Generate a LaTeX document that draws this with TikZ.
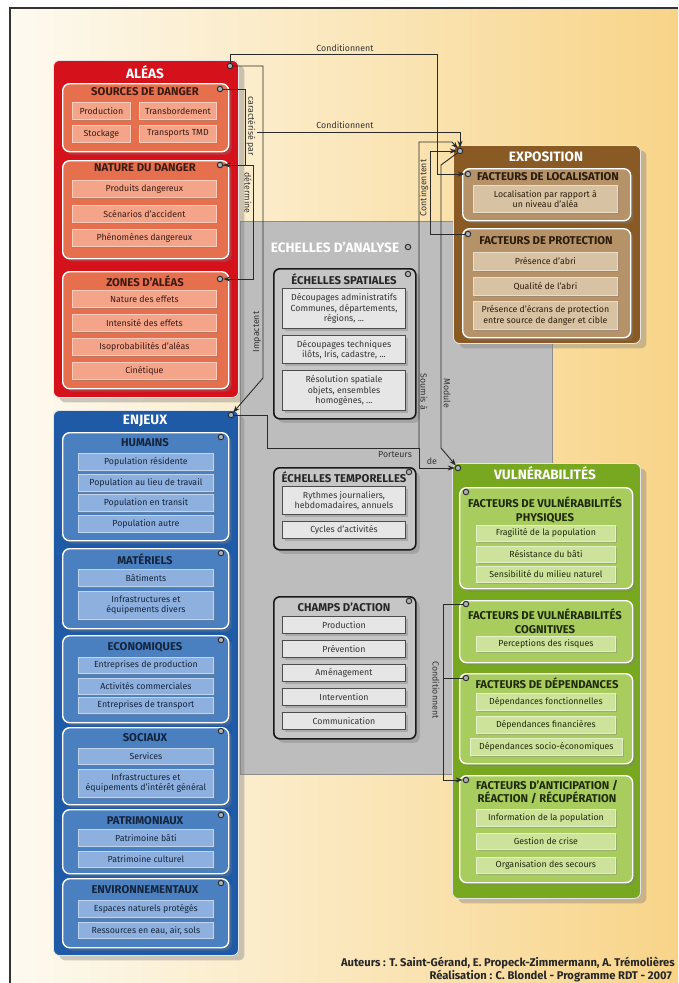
\documentclass[tikz,border=0pt]{standalone}
\usepackage{fontspec}
\setmainfont{Fira Sans}
\usetikzlibrary{shadows,arrows.meta}

\definecolor{bgL}{HTML}{FDFAF0}
\definecolor{bgM}{HTML}{FBF0CF}
\definecolor{bgR}{HTML}{F8D488}
\definecolor{redO}{HTML}{D5121B}
\definecolor{redI}{HTML}{E6704E}
\definecolor{redT}{HTML}{F3A489}
\definecolor{redTx}{HTML}{3B1A12}
\definecolor{bluO}{HTML}{1E5AA6}
\definecolor{bluI}{HTML}{4A7FC0}
\definecolor{bluT}{HTML}{8EB0DE}
\definecolor{bluTx}{HTML}{14243C}
\definecolor{brnO}{HTML}{8A5A24}
\definecolor{brnI}{HTML}{B59268}
\definecolor{brnT}{HTML}{D7C3A3}
\definecolor{brnTx}{HTML}{2B1B0A}
\definecolor{grnO}{HTML}{78A820}
\definecolor{grnI}{HTML}{A9CC5E}
\definecolor{grnT}{HTML}{CDE39C}
\definecolor{grnTx}{HTML}{1E2A0A}
\definecolor{gryBg}{HTML}{BDBDBD}
\definecolor{gryI}{HTML}{C6C6C6}
\definecolor{gryT}{HTML}{E6E6E6}
\definecolor{lnkC}{HTML}{2A2A2A}
\definecolor{dotC}{HTML}{A8AFB8}

% box of given size, top-left corner at (x,y)
\newcommand\bx[7]{\node[#2,anchor=north west,minimum width=#5pt,minimum height=#6pt] (#1) at (#3,#4) {#7};}

\tikzset{
  zone/.style={rounded corners=6pt,draw=white!80!gray,line width=0.9pt,
    drop shadow={shadow xshift=6pt,shadow yshift=-5pt,opacity=0.4}},
  grp/.style={rounded corners=7pt,draw=white,line width=1.4pt,
    drop shadow={shadow xshift=3pt,shadow yshift=-3pt,opacity=0.35}},
  leaf/.style={line width=0.8pt,align=center,inner sep=1pt,
    font=\fontsize{8.8}{10.2}\selectfont,
    drop shadow={shadow xshift=2pt,shadow yshift=-2pt,opacity=0.4}},
  leafR/.style={leaf,fill=redT,draw=redT!55!white,text=redTx},
  leafB/.style={leaf,fill=bluT,draw=bluT!55!white,text=bluTx},
  leafN/.style={leaf,fill=brnT,draw=brnT!55!white,text=brnTx},
  leafG/.style={leaf,fill=grnT,draw=grnT!55!white,text=grnTx},
  leafK/.style={leaf,fill=gryT,draw=black!70,line width=1pt,text=black!80},
  grpR/.style={grp,fill=redI},
  grpB/.style={grp,fill=bluI},
  grpN/.style={grp,fill=brnI},
  grpG/.style={grp,fill=grnI},
  grpK/.style={rounded corners=6pt,fill=gryI,draw=black!90,line width=1.6pt,
    drop shadow={shadow xshift=4pt,shadow yshift=-4pt,opacity=0.4}},
  hd/.style={font=\bfseries\fontsize{11.3}{13.8}\selectfont,align=center,inner sep=0pt},
  hdR/.style={hd,text=redTx},
  hdB/.style={hd,text=bluTx},
  hdN/.style={hd,text=brnTx},
  hdG/.style={hd,text=grnTx},
  hdK/.style={hd,text=black!85},
  bighd/.style={font=\bfseries\fontsize{13.6}{16}\selectfont,text=white,inner sep=0pt},
  dot/.style={circle,minimum size=5.5pt,inner sep=0pt,fill=dotC,draw=lnkC,line width=0.9pt},
  lnk/.style={draw=lnkC,line width=0.9pt},
  tip/.style={-{Stealth[length=7pt,width=5pt]}},
  lbl/.style={font=\fontsize{8.8}{10}\selectfont,text=black!80,inner sep=0.5pt},
  credit/.style={font=\bfseries\fontsize{11.2}{13}\selectfont,text=black!85,anchor=east,inner sep=0pt},
}

\begin{document}
\begin{tikzpicture}[x=1pt,y=-1pt]
\useasboundingbox (0,0) rectangle (678,983);
% background with its frame
\fill[white] (0,0) rectangle (678,983);
\shade[left color=bgL,middle color=bgM,right color=bgR] (10,8) rectangle (678,983);
\draw[black!80,line width=1.4pt] (10,983) -- (10,8) -- (678,8);

% ---------------- ECHELLES D'ANALYSE (grey backdrop) ----------------
\node[fill=gryBg,draw=black!45,line width=0.6pt,anchor=north west,minimum width=312pt,minimum height=553pt,inner sep=0pt] (ech) at (240,221) {};
\node[font=\bfseries\fontsize{13.6}{15}\selectfont,text=white,inner sep=0pt] (ech-t) at (335,247) {ECHELLES D'ANALYSE};

\bx{spat}{grpK}{273}{268}{142}{150}{}
\node[hdK] (spat-t) at (344,279) {ÉCHELLES SPATIALES};
\bx{spat1}{leafK}{282}{288}{123}{40}{Découpages administratifs\\Communes, départements,\\régions, ...}
\bx{spat2}{leafK}{282}{335}{123}{28}{Découpages techniques\\ilôts, Iris, cadastre, ...}
\bx{spat3}{leafK}{282}{370}{123}{40}{Résolution spatiale\\objets, ensembles\\homogènes, ...}

\bx{temp}{grpK}{273}{467}{142}{82}{}
\node[hdK] (temp-t) at (344,477) {ÉCHELLES TEMPORELLES};
\bx{temp1}{leafK}{282}{486}{123}{28}{Rythmes journaliers,\\hebdomadaires, annuels}
\bx{temp2}{leafK}{282}{521}{123}{17}{Cycles d'activités}

\bx{champ}{grpK}{273}{596}{142}{142}{}
\node[hdK] (champ-t) at (344,607) {CHAMPS D'ACTION};
\bx{ch1}{leafK}{282}{616}{123}{17}{Production}
\bx{ch2}{leafK}{282}{640}{123}{17}{Prévention}
\bx{ch3}{leafK}{282}{664}{123}{17}{Aménagement}
\bx{ch4}{leafK}{282}{688}{123}{17}{Intervention}
\bx{ch5}{leafK}{282}{712}{123}{17}{Communication}

% ---------------- ALEAS ----------------
\bx{aleas}{zone,fill=redO}{53}{60}{185}{337}{}
\node[bighd] (aleas-t) at (145,72) {ALÉAS};

\bx{src}{grpR}{62}{83}{166}{68}{}
\node[hdR] (src-t) at (145,92) {SOURCES DE DANGER};
\bx{src1}{leafR}{72}{102}{58}{17}{Production}
\bx{src2}{leafR}{139}{102}{77}{17}{Transbordement}
\bx{src3}{leafR}{72}{125}{58}{17}{Stockage}
\bx{src4}{leafR}{139}{125}{77}{17}{Transports TMD}

\bx{nat}{grpR}{62}{160}{166}{98}{}
\node[hdR] (nat-t) at (145,168) {NATURE DU DANGER};
\bx{nat1}{leafR}{72}{180}{144}{17}{Produits dangereux}
\bx{nat2}{leafR}{72}{205}{144}{17}{Scénarios d'accident}
\bx{nat3}{leafR}{72}{229}{144}{17}{Phénomènes dangereux}

\bx{zon}{grpR}{62}{271}{166}{117}{}
\node[hdR] (zon-t) at (145,281) {ZONES D'ALÉAS};
\bx{zon1}{leafR}{72}{290}{144}{17}{Nature des effets}
\bx{zon2}{leafR}{72}{314}{144}{17}{Intensité des effets}
\bx{zon3}{leafR}{72}{338}{144}{17}{Isoprobabilités d'aléas}
\bx{zon4}{leafR}{72}{362}{144}{17}{Cinétique}

% ---------------- ENJEUX ----------------
\bx{enj}{zone,fill=bluO}{53}{410}{185}{545}{}
\node[bighd] (enj-t) at (145,421) {ENJEUX};

\bx{hum}{grpB}{62}{432}{166}{108}{}
\node[hdB] (hum-t) at (145,443) {HUMAINS};
\bx{hum1}{leafB}{78}{453}{135}{17}{Population résidente}
\bx{hum2}{leafB}{78}{474}{135}{17}{Population au lieu de travail}
\bx{hum3}{leafB}{78}{494}{135}{17}{Population en transit}
\bx{hum4}{leafB}{78}{515}{135}{17}{Population autre}

\bx{mat}{grpB}{62}{548}{166}{80}{}
\node[hdB] (mat-t) at (145,559) {MATÉRIELS};
\bx{mat1}{leafB}{78}{569}{135}{17}{Bâtiments}
\bx{mat2}{leafB}{78}{591}{135}{28}{Infrastructures et\\équipements divers}

\bx{eco}{grpB}{62}{635}{166}{87}{}
\node[hdB] (eco-t) at (145,647) {ECONOMIQUES};
\bx{eco1}{leafB}{78}{657}{135}{16}{Entreprises de production}
\bx{eco2}{leafB}{78}{678}{135}{16}{Activités commerciales}
\bx{eco3}{leafB}{78}{697}{135}{16}{Entreprises de transport}

\bx{soc}{grpB}{62}{727}{166}{77}{}
\node[hdB] (soc-t) at (145,738) {SOCIAUX};
\bx{soc1}{leafB}{78}{748}{135}{16}{Services}
\bx{soc2}{leafB}{78}{769}{135}{28}{Infrastructures et\\équipements d'intérêt général}

\bx{pat}{grpB}{62}{809}{166}{64}{}
\node[hdB] (pat-t) at (145,821) {PATRIMONIAUX};
\bx{pat1}{leafB}{78}{829}{135}{17}{Patrimoine bâti}
\bx{pat2}{leafB}{78}{851}{135}{16}{Patrimoine culturel}

\bx{env}{grpB}{62}{878}{166}{69}{}
\node[hdB] (env-t) at (145,890) {ENVIRONNEMENTAUX};
\bx{env1}{leafB}{78}{900}{135}{17}{Espaces naturels protégés}
\bx{env2}{leafB}{78}{922}{135}{16}{Ressources en eau, air, sols}

% ---------------- EXPOSITION ----------------
\bx{expo}{zone,fill=brnO}{453}{145}{187}{198}{}
\node[bighd] (expo-t) at (546,157) {EXPOSITION};

\bx{loc}{grpN}{462}{168}{168}{52}{}
\node[hdN] (loc-t) at (548,177) {FACTEURS DE LOCALISATION};
\bx{loc1}{leafN}{473}{185}{144}{27}{Localisation par rapport à\\un niveau d'aléa}

\bx{prot}{grpN}{462}{228}{168}{109}{}
\node[hdN] (prot-t) at (546,241) {FACTEURS DE PROTECTION};
\bx{prot1}{leafN}{473}{252}{144}{18}{Présence d'abri}
\bx{prot2}{leafN}{473}{277}{144}{18}{Qualité de l'abri}
\bx{prot3}{leafN}{473}{301}{144}{28}{Présence d'écrans de protection\\entre source de danger et cible}

% ---------------- VULNERABILITES ----------------
\bx{vuln}{zone,fill=grnO}{452}{463}{188}{435}{}
\node[bighd] (vuln-t) at (545,473) {VULNÉRABILITÉS};

\bx{phys}{grpG}{459}{487}{173}{101}{}
\node[hdG] (phys-t) at (545,510) {FACTEURS DE VULNÉRABILITÉS\\PHYSIQUES};
\bx{phys1}{leafG}{476}{525}{139}{16}{Fragilité de la population}
\bx{phys2}{leafG}{476}{546}{139}{16}{Résistance du bâti}
\bx{phys3}{leafG}{476}{566}{139}{16}{Sensibilité du milieu naturel}

\bx{cog}{grpG}{459}{600}{173}{62}{}
\node[hdG] (cog-t) at (545,621) {FACTEURS DE VULNÉRABILITÉS\\COGNITIVES};
\bx{cog1}{leafG}{476}{636}{139}{15}{Perceptions des risques}

\bx{dep}{grpG}{459}{673}{173}{90}{}
\node[hdG] (dep-t) at (547,683) {FACTEURS DE DÉPENDANCES};
\bx{dep1}{leafG}{476}{693}{139}{17}{Dépendances fonctionnelles}
\bx{dep2}{leafG}{476}{716}{139}{17}{Dépendances financières}
\bx{dep3}{leafG}{470}{738}{152}{17}{Dépendances socio-économiques}

\bx{ant}{grpG}{459}{775}{173}{107}{}
\node[hdG] (ant-t) at (547,792) {FACTEURS D'ANTICIPATION /\\RÉACTION / RÉCUPÉRATION};
\bx{ant1}{leafG}{476}{809}{139}{17}{Information de la population}
\bx{ant2}{leafG}{476}{833}{139}{16}{Gestion de crise}
\bx{ant3}{leafG}{476}{857}{139}{16}{Organisation des secours}

% ---------------- connection points ----------------
\node[dot] (aleas-c) at (230,66) {};
\node[dot] (src-c) at (220,89) {};
\node[dot] (nat-c) at (220,165) {};
\node[dot] (zon-c) at (220,279) {};
\node[dot] (enj-c) at (231,415) {};
\node[dot] (hum-c) at (221,437) {};
\node[dot] (mat-c) at (221,553) {};
\node[dot] (eco-c) at (221,640) {};
\node[dot] (soc-c) at (221,731) {};
\node[dot] (pat-c) at (221,815) {};
\node[dot] (env-c) at (221,883) {};
\node[dot] (ech-c) at (408,247) {};
\node[dot] (spat-c) at (408,274) {};
\node[dot] (temp-c) at (409,472) {};
\node[dot] (champ-c) at (409,601) {};
\node[dot] (expo-c) at (460,151) {};
\node[dot] (loc-c) at (468,174) {};
\node[dot] (prot-c) at (468,234) {};
\node[dot] (vuln-c) at (458,468) {};
\node[dot] (phys-c) at (466,492) {};
\node[dot] (cog-c) at (466,604) {};
\node[dot] (dep-c) at (466,678) {};
\node[dot] (ant-c) at (466,780) {};

% ---------------- connectors ----------------
\coordinate (k1) at (437,54);
\coordinate (k2) at (263,378);
\coordinate (k3) at (245,165);
\coordinate (k4) at (253,279);
\coordinate (k5) at (257,132);
\coordinate (k6) at (419,448);
\coordinate (k7) at (452,142);
\coordinate (k8) at (267,448);
\coordinate (k9) at (419,468);
\coordinate (k10) at (430,151);
\coordinate (k11) at (441,165);
\coordinate (k12) at (441,448);
\coordinate (k13) at (443,780);
\coordinate (k14) at (443,678);

\draw[lnk,tip] (aleas-c) |- (k1) |- (loc-c);
\draw[lnk,tip] (aleas-c) -| (k2) -- (enj-c);
\draw[lnk,tip] (src-c) -| (k3) -- (nat-c);
\draw[lnk,tip] (nat-c) -| (k4) -- (zon-c);
\draw[lnk,tip] (k5) -| (expo-c);
\draw[lnk,tip] (enj-c) -| (k8) -| (k9) -- (vuln-c);
\draw[lnk,tip] (k6) |- (k7) -- (expo-c);
\draw[lnk,tip] (prot-c) -| (k10) -- (expo-c);
\draw[lnk,tip] (expo-c) -- (k11) -- (k12) -- (vuln-c);
\draw[lnk,tip] (cog-c) -| (k13) -- (ant-c);
\draw[lnk] (k14) -- (dep-c);

% ---------------- connector labels ----------------
\node[lbl] (l-cond1) at (345,48) {Conditionnent};
\node[lbl] (l-cond2) at (345,125) {Conditionnent};
\node[lbl,rotate=-90] (l-car) at (251,126) {caractérisé par};
\node[lbl,rotate=-90] (l-det) at (248,193) {détermine};
\node[lbl,rotate=90] (l-imp) at (257,332) {Impactent};
\node[lbl,rotate=90] (l-cont) at (424,188) {Contingentent};
\node[lbl,rotate=-90] (l-soum) at (424,392) {Soumis à};
\node[lbl,rotate=-90] (l-mod) at (447,393) {Module};
\node[lbl] (l-port) at (395,455) {Porteurs};
\node[lbl] (l-de) at (432,461) {de};
\node[lbl,rotate=-90] (l-cond3) at (436,690) {Conditionnent};

% ---------------- credits ----------------
\node[credit] (cred1) at (675,963) {Auteurs : T. Saint-Gérand, E. Propeck-Zimmermann, A. Trémolières};
\node[credit] (cred2) at (672,976) {Réalisation : C. Blondel - Programme RDT - 2007};
\end{tikzpicture}
\end{document}
